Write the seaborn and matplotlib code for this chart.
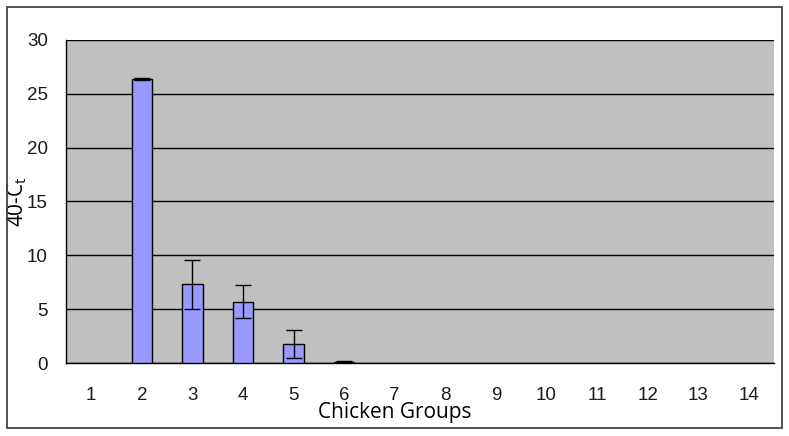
import matplotlib.pyplot as plt
import numpy as np
import pandas as pd
import seaborn as sns
from matplotlib.patches import Rectangle

groups = [str(i) for i in range(1, 15)]
values = [0, 26.4, 7.3, 5.7, 1.8, 0.1, 0, 0, 0, 0, 0, 0, 0, 0]
errors = [0, 0.1, 2.3, 1.5, 1.3, 0.1, 0, 0, 0, 0, 0, 0, 0, 0]
y_ticks = [0, 5, 10, 15, 20, 25, 30]


def main() -> None:
    sns.set_style("white")
    plt.rcParams["font.family"] = ["Liberation Sans", "DejaVu Sans"]

    df = pd.DataFrame({"group": groups, "value": values})

    fig = plt.figure(figsize=(7.89, 4.36), dpi=100)
    ax = fig.add_axes([66 / 789, 1 - 363 / 436, (774 - 66) / 789, (363 - 40) / 436])
    ax.set_facecolor("#c0c0c0")

    sns.barplot(
        data=df,
        x="group",
        y="value",
        color="#9999ff",
        edgecolor="black",
        linewidth=1.0,
        width=0.4,
        saturation=1,
        ax=ax,
        zorder=3,
    )
    # empty groups show no bar outline
    for patch in ax.patches:
        if patch.get_height() == 0:
            patch.set_visible(False)

    x_pos = np.arange(len(groups))
    has_err = np.array(values) > 0
    ax.errorbar(
        x_pos[has_err],
        np.array(values)[has_err],
        yerr=np.array(errors)[has_err],
        fmt="none",
        ecolor="black",
        elinewidth=1.0,
        capsize=6,
        capthick=1.0,
        zorder=4,
    )

    ax.set_ylim(0, 30)
    ax.set_xlim(-0.5, len(groups) - 0.5)
    ax.set_yticks(y_ticks)
    ax.yaxis.grid(True, color="black", linewidth=1.0, zorder=1)
    ax.set_axisbelow(True)

    ax.set_xticks(x_pos)
    ax.set_xticklabels(groups)
    ax.set_xticks(np.arange(len(groups) + 1) - 0.5, minor=True)
    ax.tick_params(axis="x", which="major", length=0, pad=17, labelsize=13.5, colors="#1a1a1a")
    ax.tick_params(axis="x", which="minor", length=6, width=1, color="black", direction="out")
    ax.tick_params(axis="y", length=6, width=1, color="black", direction="out", labelsize=13.5,
                   labelcolor="#1a1a1a", pad=7)

    for side in ["top", "right"]:
        ax.spines[side].set_visible(False)
    for side in ["left", "bottom"]:
        ax.spines[side].set_color("black")
        ax.spines[side].set_linewidth(1.0)

    label_font = ["Open Sans", "DejaVu Sans"]
    ax.set_xlabel("Chicken Groups", fontsize=15, color="black", family=label_font)
    ax.xaxis.set_label_coords((395 - 66) / (774 - 66), -(402 - 363) / (363 - 40))
    ax.set_ylabel("40-C$_\\mathregular{t}$", fontsize=15, color="black", family=label_font)
    ax.yaxis.set_label_coords(-(66 - 29) / (774 - 66), 0.5)

    fig.patches.append(
        Rectangle((7 / 789, 1 - 428 / 436), (782 - 7) / 789, (428 - 7) / 436,
                  transform=fig.transFigure, fill=False, edgecolor="#444444", linewidth=1.3)
    )

    fig.savefig("out.png", dpi=100)
    plt.close(fig)


if __name__ == "__main__":
    main()
